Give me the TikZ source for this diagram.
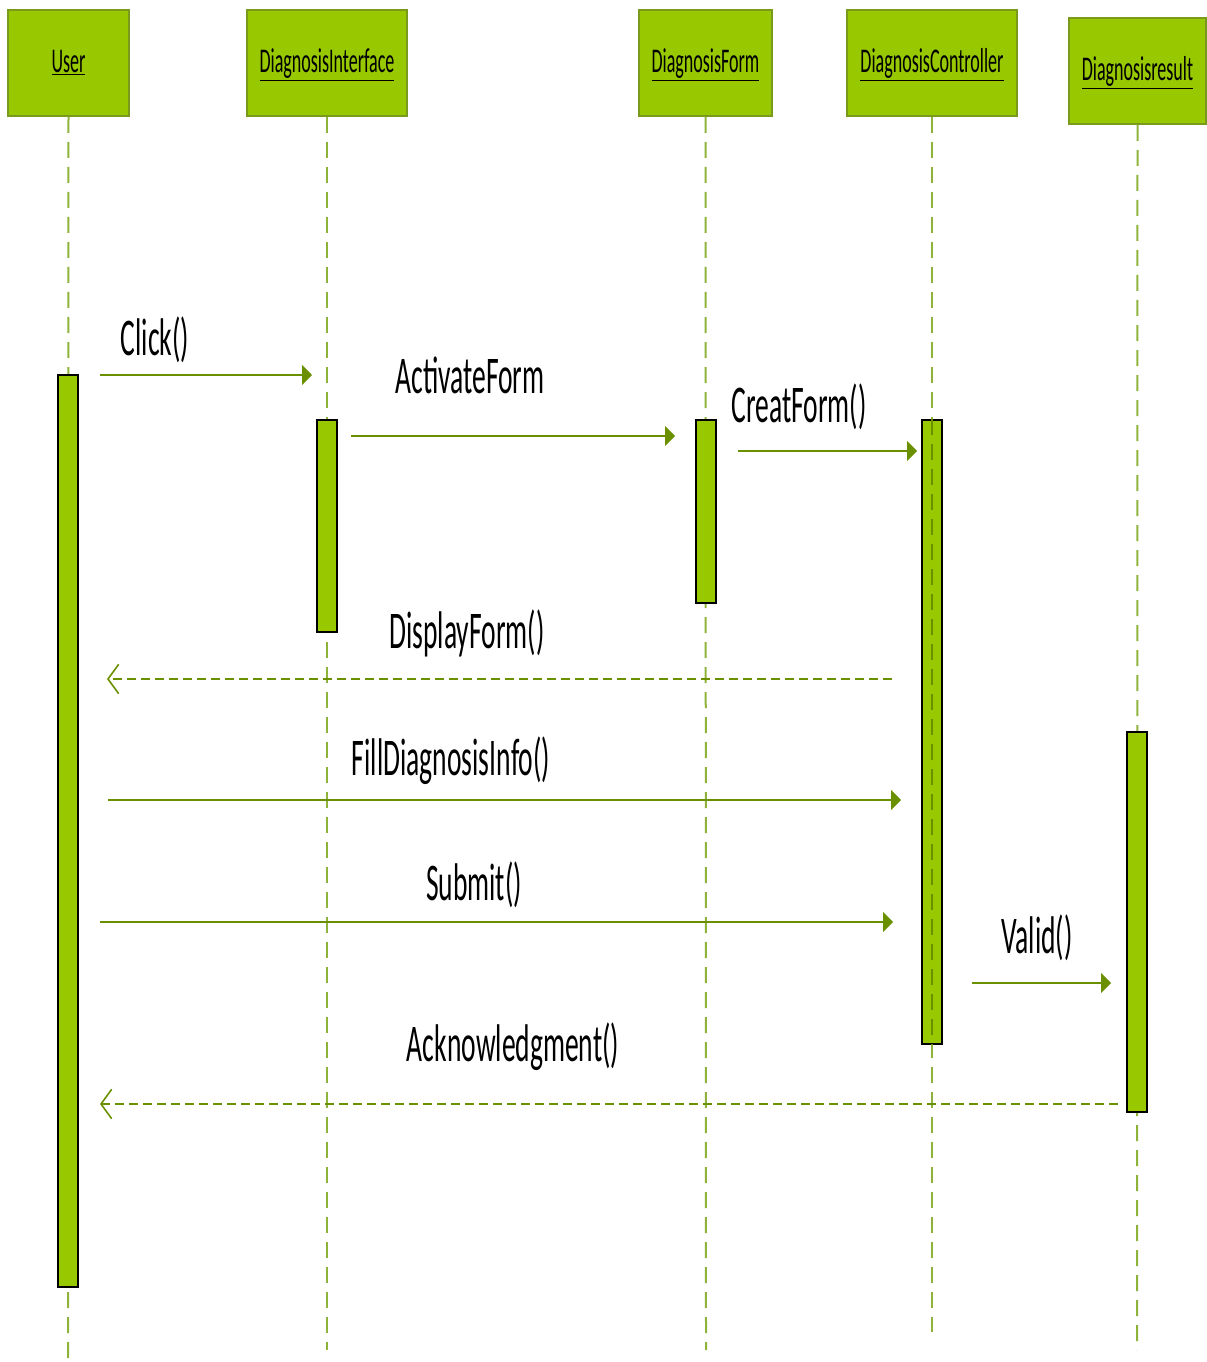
\documentclass[tikz,border=0pt]{standalone}
\usepackage{fontspec}
\setmainfont{Carlito}
\newfontfamily\msgfont[FakeStretch=0.52]{Carlito}
\newfontfamily\hdrfont[FakeStretch=0.52]{Carlito}
\usetikzlibrary{arrows.meta}
\definecolor{boxgreen}{HTML}{97C800}
\definecolor{boxedge}{HTML}{7A9A1E}
\definecolor{arrowgreen}{HTML}{6A9000}
\definecolor{lifegreen}{HTML}{8DB33A}
\newcommand\hdrtext[1]{\raisebox{-7pt}[0pt][0pt]{\underline{#1}}}
\begin{document}
\begin{tikzpicture}[x=0.75pt,y=-0.75pt,
  header/.style={draw=boxedge, line width=1.5pt, fill=boxgreen, inner sep=0pt,
    minimum height=79.5pt, font=\hdrfont\fontsize{26}{28}\selectfont},
  bar/.style={draw=black, line width=1.2pt, fill=boxgreen, inner sep=0pt, minimum width=15pt},
  life/.style={draw=lifegreen, line width=1.5pt, dash pattern=on 12pt off 6.75pt},
  msg/.style={draw=arrowgreen, line width=1.5pt, -{Triangle[length=7.5pt,width=15pt]}},
  ret/.style={draw=arrowgreen, line width=1.5pt, dash pattern=on 6.75pt off 3.75pt,
    -{Straight Barb[length=8pt,width=22pt,line width=1.2pt]}},
  lbl/.style={anchor=base, inner sep=0pt, font=\msgfont\fontsize{39.75}{44}\selectfont}]
\useasboundingbox (0,0) rectangle (1206,1362);
% headers
\node[header, minimum width=90.75pt] (user) at (68.5,63) {\hdrtext{User}};
\node[header, minimum width=120pt] (iface) at (327,63) {\hdrtext{DiagnosisInterface}};
\node[header, minimum width=99.75pt] (form) at (705.5,63) {\hdrtext{DiagnosisForm}};
\node[header, minimum width=127.5pt] (ctrl) at (932,63) {\hdrtext{DiagnosisController}};
\node[header, minimum width=102.75pt] (res) at (1137.5,71) {\hdrtext{Diagnosisresult}};
% lifeline ends
\coordinate (userend) at (68,1362);
\coordinate (ifaceend) at (327,1350);
\coordinate (formend) at (706,1350);
\coordinate (ctrlend) at (932,1332);
\coordinate (resend) at (1137,1350);
\draw[life] (user.south) -- (userend);
\draw[life] (iface.south) -- (ifaceend);
\draw[life] (form.south) -- (formend);
\draw[life] (ctrl.south) -- (ctrlend);
\draw[life] (res.south) -- (resend);
% activation bars
\node[bar, minimum height=684pt] (ubar) at (68,831) {};
\node[bar, minimum height=159pt] (ibar) at (327,526) {};
\node[bar, minimum height=137.25pt] (fbar) at (706,511.5) {};
\node[bar, minimum height=468pt] (cbar) at (932,732) {};
\node[bar, minimum height=285pt] (rbar) at (1137,922) {};
\draw[draw=arrowgreen, line width=1.2pt, dash pattern=on 12pt off 6.75pt] (cbar.north) -- (cbar.south);
% message ends
\coordinate (c1a) at (100,375);  \coordinate (c1b) at (312,375);
\coordinate (c2a) at (351,436);  \coordinate (c2b) at (675,436);
\coordinate (c3a) at (738,451);  \coordinate (c3b) at (917,451);
\coordinate (c4a) at (892,679);  \coordinate (c4b) at (107,679);
\coordinate (c5a) at (108,800);  \coordinate (c5b) at (901,800);
\coordinate (c6a) at (100,922);  \coordinate (c6b) at (893,922);
\coordinate (c7a) at (972,983);  \coordinate (c7b) at (1111,983);
\coordinate (c8a) at (1118,1104); \coordinate (c8b) at (100,1104);
\draw[msg] (c1a) -- (c1b);
\draw[msg] (c2a) -- (c2b);
\draw[msg] (c3a) -- (c3b);
\draw[ret] (c4a) -- (c4b);
\draw[msg] (c5a) -- (c5b);
\draw[msg] (c6a) -- (c6b);
\draw[msg] (c7a) -- (c7b);
\draw[ret] (c8a) -- (c8b);
% labels
\node[lbl] (l1) at (155,355) {Click()};
\node[lbl] (l2) at (470,393) {ActivateForm};
\node[lbl] (l3) at (799,422) {CreatForm()};
\node[lbl] (l4) at (467,648) {DisplayForm()};
\node[lbl] (l5) at (451,775) {FillDiagnosisInfo()};
\node[lbl] (l6) at (474,900) {Submit()};
\node[lbl] (l7) at (1037,953) {Valid()};
\node[lbl] (l8) at (513,1061) {Acknowledgment()};
\end{tikzpicture}
\end{document}
